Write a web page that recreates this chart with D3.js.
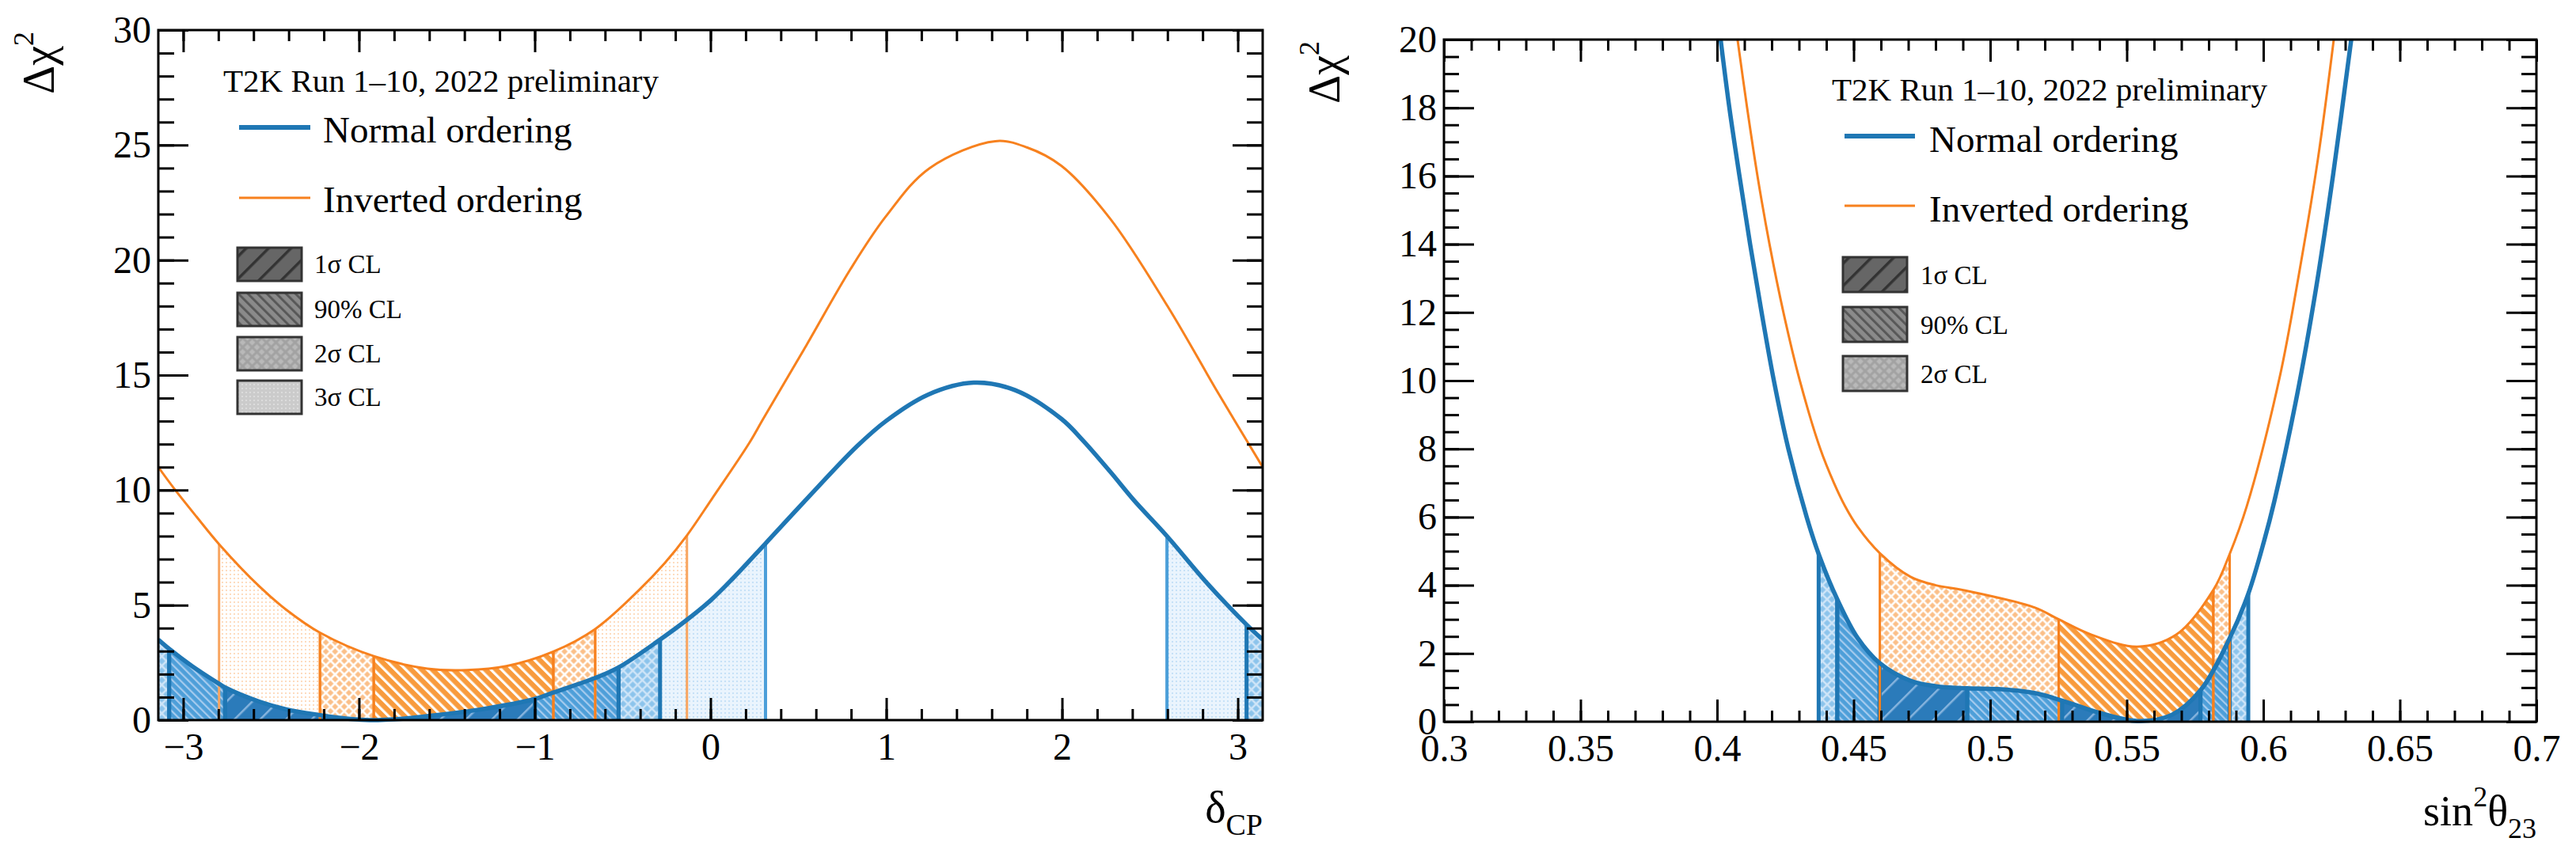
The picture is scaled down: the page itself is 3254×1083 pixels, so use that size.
<!DOCTYPE html>
<html>
<head>
<meta charset="utf-8">
<script src="https://cdn.jsdelivr.net/npm/d3@7"></script>
<style>
  body { margin: 0; background: #fff; }
  text { font-family: "Liberation Serif", "Times New Roman", serif; fill: #000; }
</style>
</head>
<body>
<div id="chart"></div>
<script>
// Delta chi^2 vs delta_CP
const dcpNoX    = [-3.1416, -3.08, -2.95, -2.796, -2.762, -2.565, -2.414, -2.222, -2.05, -1.94, -1.75, -1.611, -1.311, -0.999, -0.894, -0.656, -0.523, -0.287, -0.134, 0.0, 0.126, 0.313, 0.546, 0.833, 0.998, 1.238, 1.497, 1.731, 1.996, 2.12, 2.274, 2.41, 2.597, 2.826, 3.05, 3.1416];
const dcpNoChi2 = [3.50, 3.10, 2.35, 1.58, 1.42, 0.80, 0.47, 0.22, 0.05, 0.0, 0.06, 0.17, 0.46, 0.92, 1.20, 1.83, 2.29, 3.50, 4.36, 5.20, 6.15, 7.68, 9.60, 11.90, 13.00, 14.15, 14.67, 14.35, 13.10, 12.15, 10.80, 9.55, 8.00, 5.95, 4.15, 3.50];
const dcpIoX    = [-3.1416, -3.05, -2.925, -2.796, -2.565, -2.414, -2.222, -1.916, -1.611, -1.386, -1.161, -0.894, -0.656, -0.411, -0.261, -0.134, 0.009, 0.22, 0.30, 0.546, 0.796, 0.998, 1.247, 1.62, 1.8, 1.996, 2.274, 2.6, 2.89, 3.1416];
const dcpIoChi2 = [11.0, 10.05, 8.85, 7.65, 5.80, 4.80, 3.80, 2.78, 2.24, 2.18, 2.35, 2.98, 3.96, 5.62, 6.82, 8.03, 9.63, 12.04, 13.1, 16.3, 19.6, 21.9, 24.0, 25.17, 24.9, 24.1, 21.8, 18.0, 14.2, 11.0];

// Delta chi^2 vs sin^2(theta_23)
const th23NoX    = [0.4013, 0.4045, 0.4082, 0.4121, 0.4163, 0.4208, 0.4261, 0.4328, 0.4375, 0.444, 0.4515, 0.4595, 0.4708, 0.4801, 0.4916, 0.504, 0.5162, 0.5263, 0.5404, 0.5539, 0.5665, 0.577, 0.5877, 0.5945, 0.6003, 0.604, 0.6123, 0.6193, 0.6255, 0.6322];
const th23NoChi2 = [20, 18, 16, 14, 12, 10, 8.0, 6.0, 4.85, 3.59, 2.45, 1.72, 1.2, 1.04, 0.98, 0.95, 0.84, 0.62, 0.25, 0.02, 0.2, 0.92, 2.45, 3.75, 5.3, 6.45, 9.55, 12.7, 16.0, 20];
const th23IoX    = [0.4075, 0.411, 0.4148, 0.4192, 0.4243, 0.4303, 0.4378, 0.4428, 0.4468, 0.4515, 0.4596, 0.4708, 0.4801, 0.4901, 0.5162, 0.5251, 0.5371, 0.5539, 0.5681, 0.5817, 0.5877, 0.594, 0.606, 0.613, 0.62, 0.6258];
const th23IoChi2 = [20, 18, 16, 14, 12, 10, 8.0, 7.0, 6.33, 5.71, 4.94, 4.25, 4.0, 3.86, 3.35, 3.0, 2.55, 2.2, 2.55, 3.86, 4.92, 6.33, 10.1, 13.1, 16.5, 20];

// confidence level intervals: [level, from, to]
const dcpNoCL  = [["2s", -3.1416, -3.08], ["90", -3.08, -2.762], ["1s", -2.762, -0.999], ["90", -0.999, -0.523], ["2s", -0.523, -0.287], ["3s", -0.287, 0.313], ["3s", 2.597, 3.05], ["2s", 3.05, 3.1416]];
const dcpIoCL  = [["3s", -2.796, -2.222], ["2s", -2.222, -1.916], ["90", -1.916, -0.894], ["2s", -0.894, -0.656], ["3s", -0.656, -0.134]];
const th23NoCL = [["2s", 0.4372, 0.444], ["90", 0.444, 0.4595], ["1s", 0.4595, 0.4916], ["90", 0.4916, 0.5263], ["1s", 0.5263, 0.577], ["90", 0.577, 0.5877], ["2s", 0.5877, 0.5945]];
const th23IoCL = [["2s", 0.4596, 0.5251], ["90", 0.5251, 0.5817], ["2s", 0.5817, 0.5877]];

// ticks and labels
const dcpTicks      = [-3, -2, -1, 0, 1, 2, 3];
const dcpChi2Ticks  = [0, 5, 10, 15, 20, 25, 30];
const th23Ticks     = [0.3, 0.35, 0.4, 0.45, 0.5, 0.55, 0.6, 0.65, 0.7];
const th23Chi2Ticks = [0, 2, 4, 6, 8, 10, 12, 14, 16, 18, 20];
const legendHeader = "T2K Run 1–10, 2022 preliminary";
const seriesNames  = ["Normal ordering", "Inverted ordering"];
const clLevels     = ["1s", "90", "2s", "3s"];
const clLabels     = ["1σ CL", "90% CL", "2σ CL", "3σ CL"];

const SERIF = '"Liberation Serif", "Times New Roman", serif';
const W = 3254, H = 1083;
const svg = d3.select("#chart").append("svg")
    .attr("width", W).attr("height", H)
    .style("background", "#fff");
const defs = svg.append("defs");

// ---- fill patterns ----
function hatch(id, bg, fg, gap, lw, angle) {
    const p = defs.append("pattern").attr("id", id)
        .attr("patternUnits", "userSpaceOnUse")
        .attr("width", gap).attr("height", gap)
        .attr("patternTransform", "rotate(" + angle + ")");
    p.append("rect").attr("width", gap).attr("height", gap).attr("fill", bg);
    p.append("rect").attr("width", lw).attr("height", gap).attr("fill", fg);
}
function cross(id, line, diamond, cell, size) {
    const p = defs.append("pattern").attr("id", id)
        .attr("patternUnits", "userSpaceOnUse")
        .attr("width", cell).attr("height", cell)
        .attr("patternTransform", "rotate(45)");
    p.append("rect").attr("width", cell).attr("height", cell).attr("fill", line);
    p.append("rect").attr("x", (cell - size) / 2).attr("y", (cell - size) / 2)
        .attr("width", size).attr("height", size).attr("fill", diamond);
}
function dots(id, bg, dot, cell, size) {
    const p = defs.append("pattern").attr("id", id)
        .attr("patternUnits", "userSpaceOnUse")
        .attr("width", cell).attr("height", cell);
    p.append("rect").attr("width", cell).attr("height", cell).attr("fill", bg);
    p.append("rect").attr("width", size).attr("height", size).attr("fill", dot);
}

hatch("no-1s", "#2b7bba", "#86b4de", 23, 2.5, 45);
hatch("no-90", "#4e9fd9", "#a6cbee", 7, 2.2, -45);
cross("no-2s", "#cfe5f8", "#8cc4ec", 8.5, 6);
dots("no-3s", "#eaf4fd", "#c6e1f7", 5, 2);
hatch("io-90", "#f89b3d", "#ffffff", 9.5, 3.2, -45);
cross("io-2s", "#ffffff", "#fbbf88", 8.2, 5.6);
dots("io-3s", "#ffffff", "#fddcbf", 5, 2);
hatch("lg-1s", "#666666", "#333333", 20, 3.5, 45);
hatch("lg-90", "#8a8a8a", "#585858", 8.5, 3, -45);
cross("lg-2s", "#a2a2a2", "#b9b9b9", 8.5, 5.5);
dots("lg-3s", "#cbcbcb", "#dcdcdc", 5, 2);

const edgeStyle = {
    no: { "1s": ["#1f77b4", 5], "90": ["#1f77b4", 5], "2s": ["#1f77b4", 5], "3s": ["#4c9fd9", 4] },
    io: { "90": ["#f7811e", 3], "2s": ["#f7811e", 3], "3s": ["#f8a560", 3] }
};
const curveStyle = { no: ["#1f77b4", 5.5], io: ["#f7811e", 3] };
const levelOrder = ["3s", "2s", "90", "1s"];

function styleAxis(sel) {
    sel.select(".domain").remove();
    sel.attr("font-family", null).attr("font-size", null);
    sel.selectAll(".tick line").attr("stroke", "#000").attr("stroke-width", 3);
    sel.selectAll(".tick text")
        .style("font-family", SERIF)
        .style("font-size", "48px")
        .attr("fill", "#000");
}

function drawPanel(p) {
    const x = d3.scaleLinear().domain(p.xDomain).range([p.left, p.right]);
    const y = d3.scaleLinear().domain(p.yDomain).range([p.bottom, p.top]);
    const smooth = d3.curveCatmullRom.alpha(0.5);

    defs.append("clipPath").attr("id", p.id + "-plot").append("rect")
        .attr("x", p.left).attr("y", p.top)
        .attr("width", p.right - p.left).attr("height", p.bottom - p.top + 4);

    const area = d3.area().x(d => x(d[0])).y0(y(0)).y1(d => y(d[1])).curve(smooth);
    const line = d3.line().x(d => x(d[0])).y(d => y(d[1])).curve(smooth);

    p.series.forEach(s => {
        s.pts = s.x.map((v, i) => [v, s.y[i]]);
        defs.append("clipPath").attr("id", p.id + "-" + s.key + "-area")
            .append("path").attr("d", area(s.pts));
    });

    const sorted = cl => cl.slice().sort((a, b) => levelOrder.indexOf(a[0]) - levelOrder.indexOf(b[0]));

    // band fills: inverted first, normal on top
    ["io", "no"].forEach(key => {
        const s = p.series.find(d => d.key === key);
        svg.append("g").attr("clip-path", "url(#" + p.id + "-" + key + "-area)")
            .selectAll("rect").data(sorted(s.cl)).enter().append("rect")
            .attr("x", d => x(d[1]))
            .attr("width", d => x(d[2]) - x(d[1]))
            .attr("y", p.top).attr("height", p.bottom - p.top)
            .attr("fill", d => "url(#" + key + "-" + d[0] + ")");
    });

    // band edges: normal first, inverted edges above
    ["no", "io"].forEach(key => {
        const s = p.series.find(d => d.key === key);
        const edges = [];
        sorted(s.cl).forEach(d => {
            [d[1], d[2]].forEach(v => {
                if (Math.abs(v - p.xDomain[0]) > 1e-3 && Math.abs(v - p.xDomain[1]) > 1e-3) edges.push([d[0], v]);
            });
        });
        svg.append("g").attr("clip-path", "url(#" + p.id + "-" + key + "-area)")
            .selectAll("line").data(edges).enter().append("line")
            .attr("x1", d => x(d[1])).attr("x2", d => x(d[1]))
            .attr("y1", p.top).attr("y2", p.bottom)
            .attr("stroke", d => edgeStyle[key][d[0]][0])
            .attr("stroke-width", d => edgeStyle[key][d[0]][1]);
    });

    // curves
    ["io", "no"].forEach(key => {
        const s = p.series.find(d => d.key === key);
        svg.append("path").attr("clip-path", "url(#" + p.id + "-plot)")
            .attr("d", line(s.pts))
            .attr("fill", "none")
            .attr("stroke", curveStyle[key][0])
            .attr("stroke-width", curveStyle[key][1])
            .attr("stroke-linejoin", "round");
    });

    // axes, ticks on all four sides pointing inwards
    const axes = [
        [d3.axisBottom(x).tickValues(p.xMinor).tickSize(-p.xTick[1]).tickFormat(""), p.bottom, "y"],
        [d3.axisBottom(x).tickValues(p.xMajor).tickSize(-p.xTick[0]).tickPadding(16).tickFormat(p.xFmt), p.bottom, "y"],
        [d3.axisTop(x).tickValues(p.xMinor).tickSize(-p.xTick[1]).tickFormat(""), p.top, "y"],
        [d3.axisTop(x).tickValues(p.xMajor).tickSize(-p.xTick[0]).tickFormat(""), p.top, "y"],
        [d3.axisLeft(y).tickValues(p.yMinor).tickSize(-p.yTick[1]).tickFormat(""), p.left, "x"],
        [d3.axisLeft(y).tickValues(p.yMajor).tickSize(-p.yTick[0]).tickPadding(9).tickFormat(d3.format("d")), p.left, "x"],
        [d3.axisRight(y).tickValues(p.yMinor).tickSize(-p.yTick[1]).tickFormat(""), p.right, "x"],
        [d3.axisRight(y).tickValues(p.yMajor).tickSize(-p.yTick[0]).tickFormat(""), p.right, "x"]
    ];
    axes.forEach(a => {
        svg.append("g")
            .attr("transform", a[2] === "y" ? "translate(0," + a[1] + ")" : "translate(" + a[1] + ",0)")
            .call(a[0])
            .call(styleAxis);
    });

    svg.append("rect")
        .attr("x", p.left).attr("y", p.top)
        .attr("width", p.right - p.left).attr("height", p.bottom - p.top)
        .attr("fill", "none").attr("stroke", "#000").attr("stroke-width", 3);

    // y axis title
    const yt = svg.append("text")
        .attr("transform", "translate(" + (p.left - 132) + "," + (p.top + 2) + ") rotate(-90)")
        .attr("text-anchor", "end").attr("font-size", 56);
    yt.append("tspan").text("Δχ");
    yt.append("tspan").attr("font-size", 36).attr("dy", -26).text("2");

    // x axis title
    const xt = svg.append("text")
        .attr("x", p.right).attr("y", p.xTitleY)
        .attr("text-anchor", "end");
    p.xTitle(xt);

    // legend
    const L = p.legend;
    svg.append("text").attr("x", L.hx).attr("y", L.hy).attr("font-size", 41).text(legendHeader);
    ["no", "io"].forEach((key, i) => {
        svg.append("line")
            .attr("x1", L.lx0).attr("x2", L.lx1)
            .attr("y1", L.ly[i]).attr("y2", L.ly[i])
            .attr("stroke", curveStyle[key][0])
            .attr("stroke-width", i === 0 ? 6 : 3);
        svg.append("text").attr("x", L.tx).attr("y", L.ty[i])
            .attr("font-size", 47).text(seriesNames[i]);
    });
    L.by.forEach((by, i) => {
        svg.append("rect")
            .attr("x", L.bx).attr("y", by)
            .attr("width", L.bw).attr("height", L.bh)
            .attr("fill", "url(#lg-" + clLevels[i] + ")")
            .attr("stroke", "#333").attr("stroke-width", 3);
        svg.append("text").attr("x", L.btx).attr("y", by + L.bh - 10)
            .attr("font-size", 33).text(clLabels[i]);
    });
}

drawPanel({
    id: "dcp",
    left: 200, right: 1595, top: 38, bottom: 910,
    xDomain: [-Math.PI, Math.PI], yDomain: [0, 30],
    xMajor: dcpTicks,
    xMinor: d3.range(-15, 16).map(i => +(i * 0.2).toFixed(2)),
    yMajor: dcpChi2Ticks,
    yMinor: d3.range(0, 31),
    xTick: [28, 14], yTick: [38, 20],
    xFmt: d3.format("d"),
    series: [
        { key: "no", x: dcpNoX, y: dcpNoChi2, cl: dcpNoCL },
        { key: "io", x: dcpIoX, y: dcpIoChi2, cl: dcpIoCL }
    ],
    xTitleY: 1039,
    xTitle: t => {
        t.append("tspan").attr("font-size", 56).text("δ");
        t.append("tspan").attr("font-size", 38).attr("dy", 16).text("CP");
    },
    legend: {
        hx: 282, hy: 116,
        lx0: 302, lx1: 392, ly: [161, 250], tx: 408, ty: [180, 268],
        bx: 300, bw: 81, bh: 42, by: [313, 370, 426, 481], btx: 397
    }
});

drawPanel({
    id: "th23",
    left: 1824, right: 3204, top: 50, bottom: 912,
    xDomain: [0.3, 0.7], yDomain: [0, 20],
    xMajor: th23Ticks,
    xMinor: d3.range(30, 71).map(i => i / 100),
    yMajor: th23Chi2Ticks,
    yMinor: d3.range(0, 41).map(i => i / 2),
    xTick: [28, 14], yTick: [38, 19],
    xFmt: d => String(d),
    series: [
        { key: "no", x: th23NoX, y: th23NoChi2, cl: th23NoCL },
        { key: "io", x: th23IoX, y: th23IoChi2, cl: th23IoCL }
    ],
    xTitleY: 1043,
    xTitle: t => {
        t.append("tspan").attr("font-size", 54).text("sin");
        t.append("tspan").attr("font-size", 36).attr("dy", -24).text("2");
        t.append("tspan").attr("font-size", 54).attr("dy", 24).text("θ");
        t.append("tspan").attr("font-size", 36).attr("dy", 16).text("23");
    },
    legend: {
        hx: 2314, hy: 127,
        lx0: 2330, lx1: 2419, ly: [172, 260], tx: 2437, ty: [192, 280],
        bx: 2328, bw: 81, bh: 44, by: [325, 388, 450], btx: 2426
    }
});
</script>
</body>
</html>
